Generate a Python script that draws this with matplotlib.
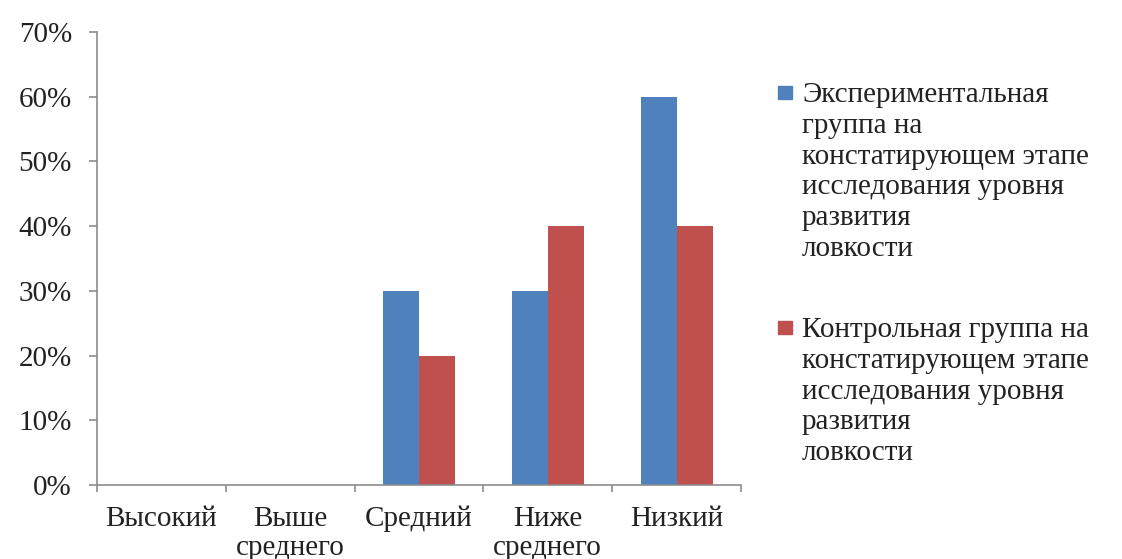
import matplotlib
matplotlib.use("Agg")
import matplotlib.pyplot as plt
from matplotlib.patches import Rectangle
import numpy as np

categories = ["Высокий", "Выше\nсреднего", "Средний", "Ниже\nсреднего", "Низкий"]
exp_values = [0, 0, 30, 30, 60]
ctrl_values = [0, 0, 20, 40, 40]
y_ticks = [0, 10, 20, 30, 40, 50, 60, 70]
legend_labels = [
    "Экспериментальная\nгруппа на\nконстатирующем этапе\nисследования уровня\nразвития\nловкости",
    "Контрольная группа на\nконстатирующем этапе\nисследования уровня\nразвития\nловкости",
]
colors = ["#4F81BD", "#C0504D"]

plt.rcParams['font.family'] = ['Liberation Serif', 'DejaVu Serif']
W, H = 1122, 559
FS = 21
PX = 72 / 100  # points per pixel
fig = plt.figure(figsize=(W / 100, H / 100), dpi=100)
ax = fig.add_axes([97 / W, 1 - 485 / H, (741 - 97) / W, (485 - 32) / H])

x = np.arange(len(categories))
bw = 0.28
ax.bar(x - bw / 2, exp_values, width=bw, color=colors[0])
ax.bar(x + bw / 2, ctrl_values, width=bw, color=colors[1])

ax.set_xlim(-0.5, len(categories) - 0.5)
ax.set_ylim(0, 70)
ax.set_yticks(y_ticks)
ax.set_yticklabels([f"{v}%" for v in y_ticks])
ax.set_xticks(x)
ax.set_xticklabels(categories, linespacing=1.13)
ax.set_xticks(np.arange(-0.5, len(categories), 1.0), minor=True)

for s in ["top", "right"]:
    ax.spines[s].set_visible(False)
for s in ["left", "bottom"]:
    ax.spines[s].set_color("#8c8c8c")
    ax.spines[s].set_linewidth(1.2)

ax.tick_params(axis="y", length=6, width=1.2, color="#8c8c8c", pad=12,
               labelsize=FS, labelcolor="#222222")
ax.tick_params(axis="x", which="major", length=0, pad=21 * PX, labelsize=FS,
               labelcolor="#222222")
ax.tick_params(axis="x", which="minor", length=5, width=1.2, color="#8c8c8c")

# legend drawn manually
text_tops = [82, 317]
sq_tops = [86, 321]
for lab, col, t, st in zip(legend_labels, colors, text_tops, sq_tops):
    fig.add_artist(Rectangle((778 / W, 1 - (st + 13) / H), 14 / W, 13 / H,
                             transform=fig.transFigure, color=col))
    fig.text(802 / W, 1 - t / H, lab, ha="left", va="top", fontsize=FS,
             color="#222222", linespacing=1.24)

fig.savefig("out.png", dpi=100)
